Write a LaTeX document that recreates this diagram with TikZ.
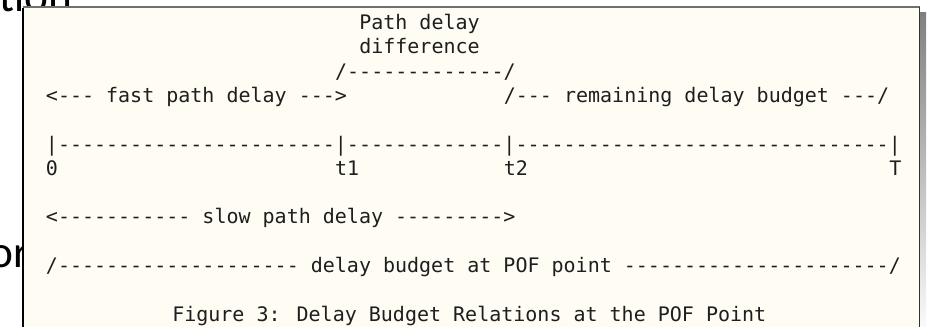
\documentclass[tikz,border=0pt]{standalone}
\usepackage{fontspec}
\usepackage{xcolor}
\usepackage{tikz}
\newfontfamily\asciifont{DejaVu Sans Mono}[Ligatures=TeXOff]
\newfontfamily\slidefont{Carlito}
\definecolor{paper}{HTML}{FFFCF4}
\definecolor{topline}{HTML}{707070}
\definecolor{shade}{HTML}{A4A4A4}
\definecolor{ink}{HTML}{1E1E1E}

\begin{document}
\begin{tikzpicture}[x=0.75pt, y=-0.75pt,
    ascii/.style={anchor=base west, inner sep=0pt, text=ink,
        font=\asciifont\fontsize{15pt}{18pt}\selectfont},
    slide/.style={anchor=base west, inner sep=0pt,
        font=\slidefont\fontsize{34pt}{40pt}\selectfont}]
    \useasboundingbox (0,0) rectangle (929,326);
    \clip (0,0) rectangle (929,326);

    % slide text behind the figure
    \node [slide] (tion) at (-1,11.5) {tion};
    \node [slide] (or) at (-11,267) {or};

    % figure frame
    \fill [shade] (920,12) rectangle (926,340);
    \fill [paper] (23,7) rectangle (919,340);
    \draw [black, line width=1.2] (23,340) -- (23,7.5);
    \draw [topline, line width=1.5] (23,7) -- (920,7);
    \draw [black!80, line width=1.2] (919.5,7) -- (919.5,340);

    % ascii drawing, one column = 12.05
    \node [ascii] (pathdelay) at ({45.7+12.05*26},29.5) {Path delay};
    \node [ascii] (difference) at ({45.7+12.05*26},53.8) {difference};
    \node [ascii] (diffspan) at ({45.7+12.05*24},78.1) {/-------------/};
    \node [ascii] (fastdelay) at (45.7,102.4) {<--- fast path delay --->};
    \node [ascii] (remaining) at ({45.7+12.05*38},102.4) {/--- remaining delay budget ---/};
    \node [ascii] (timeline) at (45.7,151) {|-----------------------|-------------|-------------------------------|};
    \node [ascii] (zero) at (45.7,175.3) {0};
    \node [ascii] (tone) at ({45.7+12.05*24},175.3) {t1};
    \node [ascii] (ttwo) at ({45.7+12.05*38},175.3) {t2};
    \node [ascii] (tend) at ({45.7+12.05*70},175.3) {T};
    \node [ascii] (slowdelay) at (45.7,223.9) {<----------- slow path delay --------->};
    \node [ascii] (budget) at (45.7,272.5) {/-------------------- delay budget at POF point ----------------------/};
    \node [ascii] (caption) at (172,321.1) {Figure 3: Delay Budget Relations at the POF Point};
\end{tikzpicture}
\end{document}
